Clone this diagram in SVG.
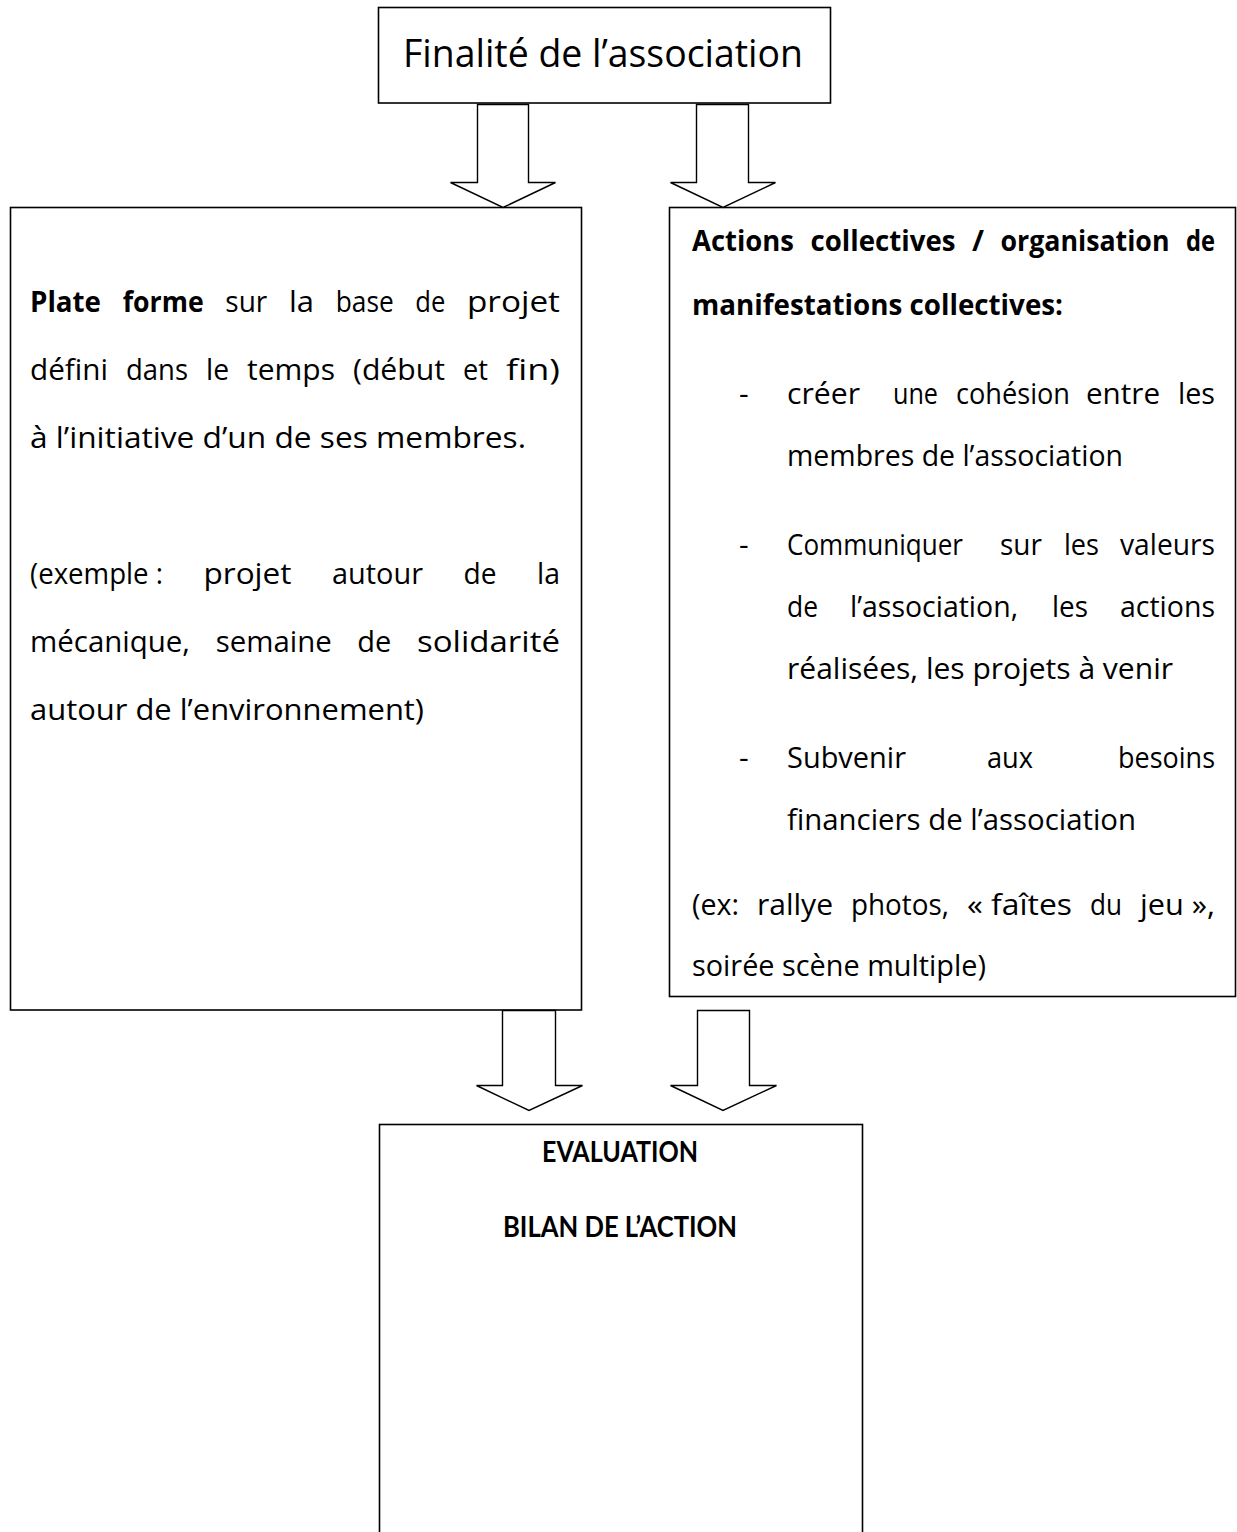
<svg xmlns="http://www.w3.org/2000/svg" width="1237" height="1532" viewBox="0 0 1237 1532">
<style>
.box{fill:#fff;stroke:#000;stroke-width:1.6}
.arr{fill:#fff;stroke:#000;stroke-width:1.4;stroke-linejoin:miter}
.t{font-family:"Open Sans","DejaVu Sans",sans-serif;font-size:30px;fill:#000}
.b{font-weight:bold;font-size:28.5px}
.title{font-family:"Open Sans","DejaVu Sans",sans-serif;font-size:38px;fill:#000}
.cal{font-family:Lato,"Open Sans",sans-serif;font-size:28px;font-weight:bold;fill:#000}
</style>
<rect width="1237" height="1532" fill="#fff"/>

<g id="node-finalite">
<rect class="box" x="378.5" y="7.5" width="452" height="95.5"/>
<text class="title" x="403" y="67" textLength="400" lengthAdjust="spacingAndGlyphs">Finalité de l’association</text>
</g>

<g id="node-plateforme">
<rect class="box" x="10.5" y="207.5" width="571" height="802.5"/>
<text class="t" y="312"><tspan class="b" x="30" textLength="71" lengthAdjust="spacingAndGlyphs">Plate</tspan> <tspan class="b" x="122.7" textLength="81" lengthAdjust="spacingAndGlyphs">forme</tspan> <tspan x="225.3" textLength="42" lengthAdjust="spacingAndGlyphs">sur</tspan> <tspan x="289" textLength="25" lengthAdjust="spacingAndGlyphs">la</tspan> <tspan x="335.7" textLength="58" lengthAdjust="spacingAndGlyphs">base</tspan> <tspan x="415.3" textLength="30" lengthAdjust="spacingAndGlyphs">de</tspan> <tspan x="467" textLength="93" lengthAdjust="spacingAndGlyphs">projet</tspan></text>
<text class="t" y="380"><tspan x="30" textLength="78" lengthAdjust="spacingAndGlyphs">défini</tspan> <tspan x="126" textLength="62" lengthAdjust="spacingAndGlyphs">dans</tspan> <tspan x="206" textLength="23" lengthAdjust="spacingAndGlyphs">le</tspan> <tspan x="247" textLength="88" lengthAdjust="spacingAndGlyphs">temps</tspan> <tspan x="353" textLength="92" lengthAdjust="spacingAndGlyphs">(début</tspan> <tspan x="463" textLength="25" lengthAdjust="spacingAndGlyphs">et</tspan> <tspan x="506" textLength="54" lengthAdjust="spacingAndGlyphs">fin)</tspan></text>
<text class="t" x="30" y="448" textLength="496" lengthAdjust="spacingAndGlyphs">à l’initiative d’un de ses membres.</text>
<text class="t" y="584"><tspan x="30" textLength="133" lengthAdjust="spacingAndGlyphs">(exemple :</tspan> <tspan x="203.5" textLength="88" lengthAdjust="spacingAndGlyphs">projet</tspan> <tspan x="332" textLength="91" lengthAdjust="spacingAndGlyphs">autour</tspan> <tspan x="463.5" textLength="33" lengthAdjust="spacingAndGlyphs">de</tspan> <tspan x="537" textLength="23" lengthAdjust="spacingAndGlyphs">la</tspan></text>
<text class="t" y="652"><tspan x="30" textLength="160" lengthAdjust="spacingAndGlyphs">mécanique,</tspan> <tspan x="215.7" textLength="116" lengthAdjust="spacingAndGlyphs">semaine</tspan> <tspan x="357.3" textLength="34" lengthAdjust="spacingAndGlyphs">de</tspan> <tspan x="417" textLength="143" lengthAdjust="spacingAndGlyphs">solidarité</tspan></text>
<text class="t" x="30" y="720" textLength="394" lengthAdjust="spacingAndGlyphs">autour de l’environnement)</text>
</g>

<g id="node-actions">
<rect class="box" x="669.5" y="207.5" width="566" height="789"/>
<text class="t b" y="251"><tspan x="692" textLength="102" lengthAdjust="spacingAndGlyphs">Actions</tspan> <tspan x="810.5" textLength="145" lengthAdjust="spacingAndGlyphs">collectives</tspan> <tspan x="972" textLength="12" lengthAdjust="spacingAndGlyphs">/</tspan> <tspan x="1000.5" textLength="169" lengthAdjust="spacingAndGlyphs">organisation</tspan> <tspan x="1186" textLength="29" lengthAdjust="spacingAndGlyphs">de</tspan></text>
<text class="t b" x="692" y="315" textLength="371" lengthAdjust="spacingAndGlyphs">manifestations collectives:</text>
<text class="t" x="739" y="404">-</text>
<text class="t" y="404"><tspan x="787" textLength="73" lengthAdjust="spacingAndGlyphs">créer</tspan> <tspan x="893" textLength="45" lengthAdjust="spacingAndGlyphs">une</tspan> <tspan x="956" textLength="114" lengthAdjust="spacingAndGlyphs">cohésion</tspan> <tspan x="1086" textLength="74" lengthAdjust="spacingAndGlyphs">entre</tspan> <tspan x="1178" textLength="37" lengthAdjust="spacingAndGlyphs">les</tspan></text>
<text class="t" x="787" y="466" textLength="336" lengthAdjust="spacingAndGlyphs">membres de l’association</text>
<text class="t" x="739" y="555">-</text>
<text class="t" y="555"><tspan x="787" textLength="176" lengthAdjust="spacingAndGlyphs">Communiquer</tspan> <tspan x="1000" textLength="42" lengthAdjust="spacingAndGlyphs">sur</tspan> <tspan x="1064" textLength="35" lengthAdjust="spacingAndGlyphs">les</tspan> <tspan x="1120" textLength="95" lengthAdjust="spacingAndGlyphs">valeurs</tspan></text>
<text class="t" y="617"><tspan x="787" textLength="31" lengthAdjust="spacingAndGlyphs">de</tspan> <tspan x="850" textLength="168" lengthAdjust="spacingAndGlyphs">l’association,</tspan> <tspan x="1052" textLength="36" lengthAdjust="spacingAndGlyphs">les</tspan> <tspan x="1120" textLength="95" lengthAdjust="spacingAndGlyphs">actions</tspan></text>
<text class="t" x="787" y="679" textLength="386" lengthAdjust="spacingAndGlyphs">réalisées, les projets à venir</text>
<text class="t" x="739" y="768">-</text>
<text class="t" y="768"><tspan x="787" textLength="119" lengthAdjust="spacingAndGlyphs">Subvenir</tspan> <tspan x="987" textLength="46" lengthAdjust="spacingAndGlyphs">aux</tspan> <tspan x="1118" textLength="97" lengthAdjust="spacingAndGlyphs">besoins</tspan></text>
<text class="t" x="787" y="830" textLength="349" lengthAdjust="spacingAndGlyphs">financiers de l’association</text>
<text class="t" y="915"><tspan x="692" textLength="47" lengthAdjust="spacingAndGlyphs">(ex:</tspan> <tspan x="757" textLength="76" lengthAdjust="spacingAndGlyphs">rallye</tspan> <tspan x="851" textLength="98" lengthAdjust="spacingAndGlyphs">photos,</tspan> <tspan x="967" textLength="105" lengthAdjust="spacingAndGlyphs">« faîtes</tspan> <tspan x="1090" textLength="32" lengthAdjust="spacingAndGlyphs">du</tspan> <tspan x="1140" textLength="75" lengthAdjust="spacingAndGlyphs">jeu »,</tspan></text>
<text class="t" x="692" y="976" textLength="294" lengthAdjust="spacingAndGlyphs">soirée scène multiple)</text>
</g>

<g id="node-evaluation">
<rect class="box" x="379.5" y="1124.5" width="483" height="430"/>
<text class="cal" x="620" y="1162" text-anchor="middle" textLength="156" lengthAdjust="spacingAndGlyphs">EVALUATION</text>
<text class="cal" x="620" y="1237" text-anchor="middle" textLength="234" lengthAdjust="spacingAndGlyphs">BILAN DE L’ACTION</text>
</g>

<g id="connectors">
<polygon class="arr" points="477.5,104.5 528.5,104.5 528.5,182.5 555.5,182.5 503,207.5 450.5,182.5 477.5,182.5"/>
<polygon class="arr" points="696.5,104.5 748.5,104.5 748.5,182.5 775.5,182.5 723,207.5 670.5,182.5 696.5,182.5"/>
<polygon class="arr" points="502.5,1010.5 555.5,1010.5 555.5,1085.5 582.5,1085.5 529,1110.5 476.5,1085.5 502.5,1085.5"/>
<polygon class="arr" points="697.5,1010.5 749.5,1010.5 749.5,1085.5 776.5,1085.5 723,1110.5 670.5,1085.5 697.5,1085.5"/>
</g>
</svg>
